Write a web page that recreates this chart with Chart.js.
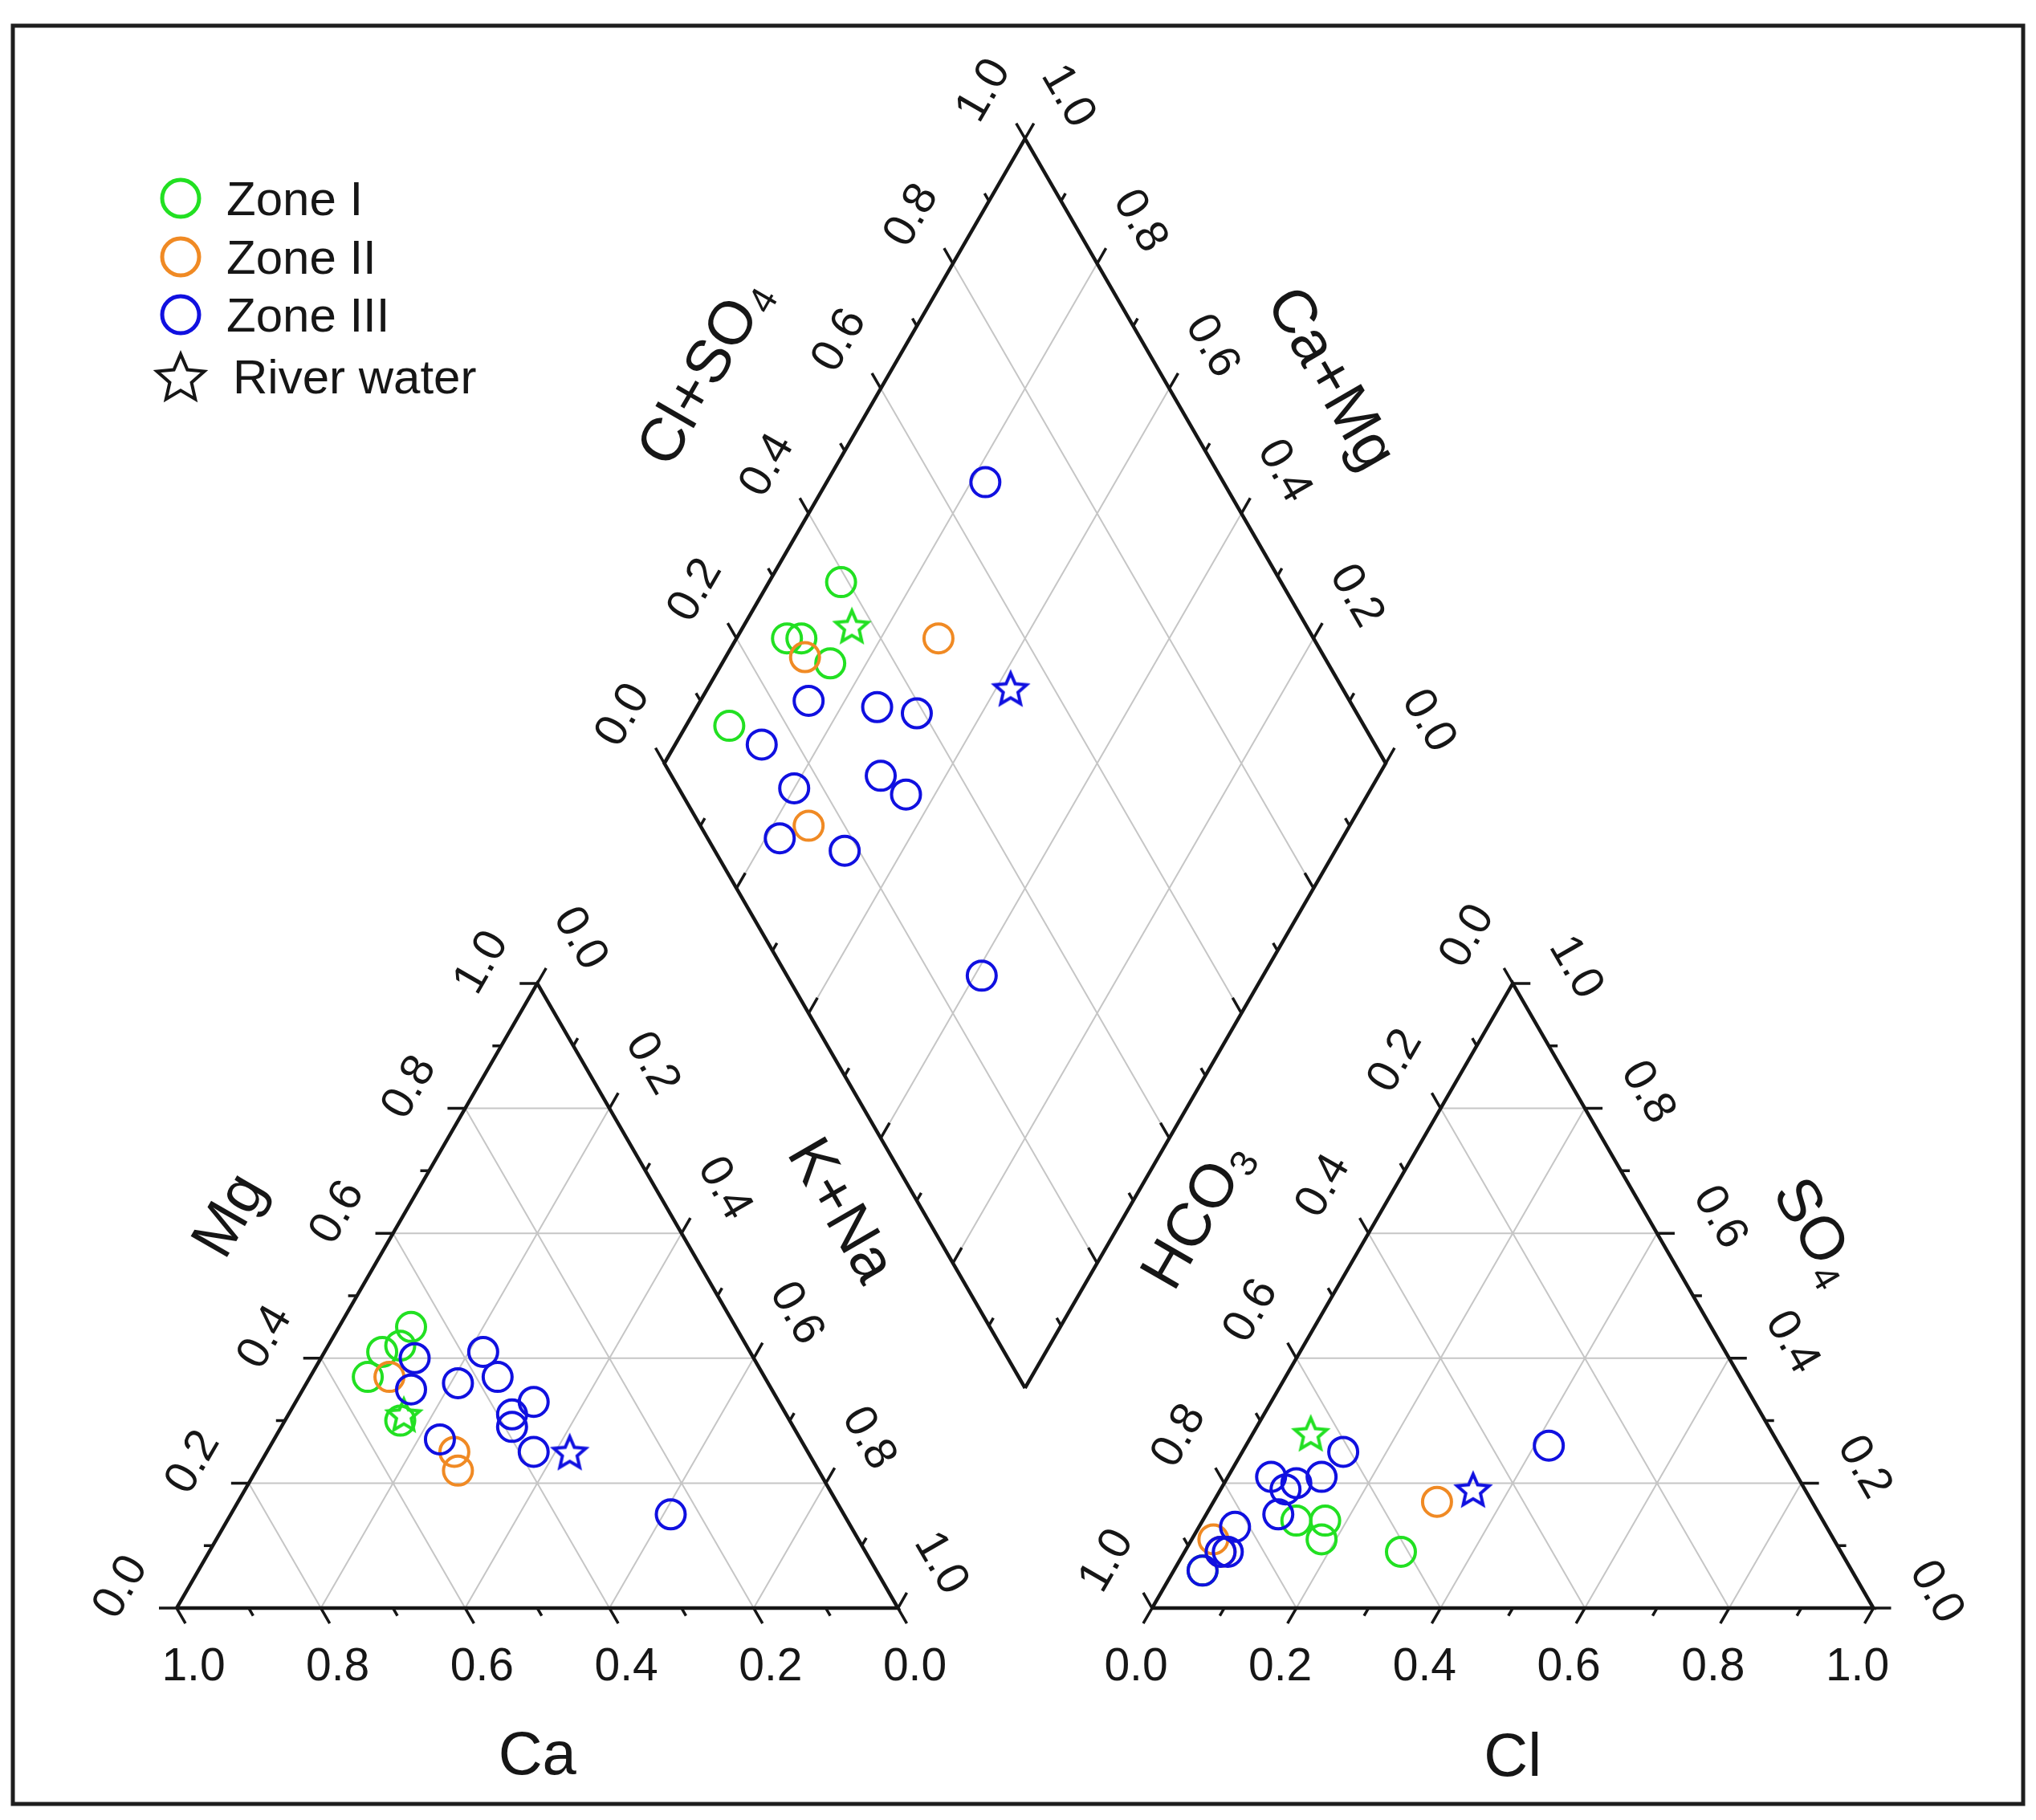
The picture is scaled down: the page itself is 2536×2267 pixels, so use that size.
<!DOCTYPE html>
<html>
<head>
<meta charset="utf-8">
<title>Piper diagram</title>
<script src="https://cdn.jsdelivr.net/npm/chart.js@4.4.1/dist/chart.umd.min.js"></script>
<style>
  html, body { margin: 0; padding: 0; background: #fff; }
  canvas { display: block; }
</style>
</head>
<body>
<canvas id="canvas" width="2536" height="2267"></canvas>
<script>
// values, as fractions
// cations: [Ca, Mg, K+Na]
const zone1Cations = [[0.45, 0.45, 0.10], [0.51, 0.41, 0.08], [0.48, 0.42, 0.10], [0.55, 0.37, 0.08], [0.54, 0.30, 0.16]];
const zone2Cations = [[0.52, 0.37, 0.11], [0.49, 0.25, 0.26], [0.50, 0.22, 0.28]];
const zone3Cations = [[0.47, 0.40, 0.13], [0.50, 0.35, 0.15], [0.43, 0.36, 0.21], [0.37, 0.41, 0.22], [0.37, 0.37, 0.26],
  [0.34, 0.33, 0.33], [0.38, 0.31, 0.31], [0.39, 0.29, 0.32], [0.50, 0.27, 0.23], [0.38, 0.25, 0.37], [0.24, 0.15, 0.61]];
// anions: [HCO3, Cl, SO4]
const zone1Anions = [[0.73, 0.13, 0.14], [0.69, 0.17, 0.14], [0.71, 0.18, 0.11], [0.61, 0.30, 0.09], [0.90, 0.04, 0.06]];
const zone2Anions = [[0.52, 0.31, 0.17], [0.86, 0.03, 0.11], [0.86, 0.05, 0.09]];
const zone3Anions = [[0.73, 0.06, 0.21], [0.72, 0.09, 0.19], [0.70, 0.10, 0.20], [0.66, 0.13, 0.21], [0.61, 0.14, 0.25],
  [0.75, 0.10, 0.15], [0.82, 0.05, 0.13], [0.85, 0.06, 0.09], [0.86, 0.05, 0.09], [0.90, 0.04, 0.06], [0.32, 0.42, 0.26]];
// diamond: [Cl+SO4, Ca+Mg]
const zone1Diamond = [[0.39, 0.90], [0.27, 0.93], [0.29, 0.91], [0.31, 0.85], [0.12, 0.94]];
const zone2Diamond = [[0.28, 0.89], [0.48, 0.72], [0.15, 0.75]];
const zone3Diamond = [[0.67, 0.78], [0.25, 0.85], [0.34, 0.75], [0.39, 0.69], [0.15, 0.88], [0.16, 0.80],
  [0.29, 0.69], [0.31, 0.64], [0.10, 0.78], [0.18, 0.68], [0.27, 0.39]];
// river water (first: zone I colour, second: zone III colour)
const riverCations = [[0.53, 0.31, 0.16], [0.33, 0.25, 0.42]];
const riverAnions = [[0.64, 0.08, 0.28], [0.46, 0.35, 0.19]];
const riverDiamond = [[0.37, 0.85], [0.54, 0.58]];

const zoneNames = ['Zone I', 'Zone II', 'Zone III'];
const zoneColors = ['#22e022', '#f08a24', '#1010e0'];

const tickValues = [0, 0.1, 0.2, 0.3, 0.4, 0.5, 0.6, 0.7, 0.8, 0.9, 1];
const labelValues = [0, 0.2, 0.4, 0.6, 0.8, 1];
const gridValues = [0.2, 0.4, 0.6, 0.8];

// layout (px)
const SIDE = 898.5;
const ORIGIN = [220, 2003];
const GAP = 316.5 / SIDE;
const H = Math.sqrt(3) / 2;
const RX = 1 + GAP;
const DB = {x: 1 + GAP / 2, y: GAP * H};

function cat(ca, mg, na) { return {x: na + mg / 2, y: mg * H}; }
function ani(hco3, cl, so4) { return {x: RX + cl + so4 / 2, y: so4 * H}; }
function dia(u, v) { return {x: DB.x + (u - v) / 2, y: DB.y + (u + v) * H}; }

function samples(c, a, d) {
  return [].concat(c.map(p => cat(p[0], p[1], p[2])), a.map(p => ani(p[0], p[1], p[2])), d.map(p => dia(p[0], p[1])));
}

function segs(list) {
  let out = [];
  list.forEach(s => { out = out.concat(s); out.push({x: null, y: null}); });
  return out;
}

// axes: point on the edge for value t, tick direction, label rotation + offset
const axes = [
  {at: t => cat(t, 0, 1 - t), dir: [0.5, -H], rot: 0, off: [21, 70], labels: true},
  {at: t => cat(1 - t, t, 0), dir: [-1, 0], rot: -60, off: [-73, -28], labels: true},
  {at: t => cat(0, 1 - t, t), dir: [0.5, H], rot: 60, off: [57, -58], labels: true},
  {at: t => ani(1 - t, t, 0), dir: [-0.5, -H], rot: 0, off: [-20, 70], labels: true},
  {at: t => ani(t, 0, 1 - t), dir: [-0.5, H], rot: -60, off: [-60, -61], labels: true},
  {at: t => ani(0, 1 - t, t), dir: [1, 0], rot: 60, off: [82, -22], labels: true},
  {at: t => dia(t, 1), dir: [-0.5, H], rot: -60, off: [-55, -62], labels: true},
  {at: t => dia(1, t), dir: [0.5, H], rot: 60, off: [57, -55], labels: true},
  {at: t => dia(0, t), dir: [0.5, H], labels: false},
  {at: t => dia(t, 0), dir: [-0.5, H], labels: false}
];

const titles = [
  {text: 'Ca', sub: '', at: () => cat(0.5, 0, 0.5), off: [0, 180], rot: 0},
  {text: 'Mg', sub: '', at: () => cat(0.5, 0.5, 0), off: [-162, -102], rot: -60},
  {text: 'K+Na', sub: '', at: () => cat(0, 0.5, 0.5), off: [157, -108], rot: 60},
  {text: 'Cl', sub: '', at: () => ani(0.5, 0.5, 0), off: [0, 182], rot: 0},
  {text: 'HCO', sub: '3', at: () => ani(0.5, 0, 0.5), off: [-172, -102], rot: -60},
  {text: 'SO', sub: '4', at: () => ani(0, 0.5, 0.5), off: [156, -82], rot: 60},
  {text: 'Cl+SO', sub: '4', at: () => dia(0.5, 1), off: [-178, -100], rot: -60},
  {text: 'Ca+Mg', sub: '', at: () => dia(1, 0.5), off: [160, -92], rot: 60}
];

// grid lines
const gridSegs = [];
gridValues.forEach(t => {
  [cat, ani].forEach(f => {
    gridSegs.push([f(t, 1 - t, 0), f(t, 0, 1 - t)]);
    gridSegs.push([f(1 - t, t, 0), f(0, t, 1 - t)]);
    gridSegs.push([f(1 - t, 0, t), f(0, 1 - t, t)]);
  });
  gridSegs.push([dia(t, 0), dia(t, 1)]);
  gridSegs.push([dia(0, t), dia(1, t)]);
});

const outlineSegs = [
  [cat(1, 0, 0), cat(0, 0, 1), cat(0, 1, 0), cat(1, 0, 0)],
  [ani(1, 0, 0), ani(0, 1, 0), ani(0, 0, 1), ani(1, 0, 0)],
  [dia(0, 0), dia(1, 0), dia(1, 1), dia(0, 1), dia(0, 0)]
];

const tickSegs = [];
axes.forEach(ax => {
  tickValues.forEach((t, i) => {
    const len = (i % 2 === 0 ? 22 : 11) / SIDE;
    const p = ax.at(t);
    tickSegs.push([p, {x: p.x + ax.dir[0] * len, y: p.y + ax.dir[1] * len}]);
  });
});

function makeStar(color, r, lw) {
  const size = Math.ceil(2 * (r + lw)) + 4;
  const c = document.createElement('canvas');
  c.width = c.height = size;
  const g = c.getContext('2d');
  g.translate(size / 2, size / 2 + r * 0.1);
  g.beginPath();
  for (let i = 0; i < 10; i++) {
    const rr = i % 2 ? r * 0.46 : r;
    const a = -Math.PI / 2 + i * Math.PI / 5;
    g.lineTo(rr * Math.cos(a), rr * Math.sin(a));
  }
  g.closePath();
  g.strokeStyle = color;
  g.lineWidth = lw;
  g.stroke();
  return c;
}

const lineSet = (data, color, width, order) => ({
  type: 'line', data: data, borderColor: color, borderWidth: width,
  pointRadius: 0, spanGaps: false, fill: false, order: order
});
const pointSet = (data, color, order) => ({
  type: 'scatter', data: data, pointStyle: 'circle', pointRadius: 18, pointBorderWidth: 4,
  pointBorderColor: color, pointBackgroundColor: 'rgba(0,0,0,0)', order: order
});
const starSet = (data, color) => ({
  type: 'scatter', data: data, pointStyle: makeStar(color, 21, 4), pointRadius: 20, order: 6
});

const datasets = [
  lineSet(segs(gridSegs), '#c6c6c6', 2, 10),
  lineSet(segs(outlineSegs), '#161616', 4.5, 9),
  lineSet(segs(tickSegs), '#161616', 3.5, 9),
  starSet(samples([riverCations[0]], [riverAnions[0]], [riverDiamond[0]]), zoneColors[0]),
  starSet(samples([riverCations[1]], [riverAnions[1]], [riverDiamond[1]]), zoneColors[2]),
  pointSet(samples(zone1Cations, zone1Anions, zone1Diamond), zoneColors[0], 5),
  pointSet(samples(zone2Cations, zone2Anions, zone2Diamond), zoneColors[1], 4),
  pointSet(samples(zone3Cations, zone3Anions, zone3Diamond), zoneColors[2], 3)
];

const FONT = '"Liberation Sans", Arial, sans-serif';

function drawText(ctx, x, y, rot, main, sub, size) {
  ctx.save();
  ctx.translate(x, y);
  ctx.rotate(rot * Math.PI / 180);
  ctx.font = size + 'px ' + FONT;
  const w1 = ctx.measureText(main).width;
  const subSize = Math.round(size * 0.62);
  let w2 = 0;
  if (sub) {
    ctx.font = subSize + 'px ' + FONT;
    w2 = ctx.measureText(sub).width + 2;
  }
  const x0 = -(w1 + w2) / 2;
  ctx.textAlign = 'left';
  ctx.textBaseline = 'alphabetic';
  ctx.fillStyle = '#161616';
  ctx.font = size + 'px ' + FONT;
  ctx.fillText(main, x0, size * 0.358);
  if (sub) {
    ctx.font = subSize + 'px ' + FONT;
    ctx.fillText(sub, x0 + w1 + 2, size * 0.358 + size * 0.14);
  }
  ctx.restore();
}

const piperText = {
  id: 'piperText',
  afterDraw(chart) {
    const ctx = chart.ctx;
    const xs = chart.scales.x, ys = chart.scales.y;
    const px = p => [xs.getPixelForValue(p.x), ys.getPixelForValue(p.y)];

    axes.forEach(ax => {
      if (!ax.labels) return;
      labelValues.forEach(t => {
        const q = px(ax.at(t));
        drawText(ctx, q[0] + ax.off[0], q[1] + ax.off[1], ax.rot, t.toFixed(1), '', 57);
      });
    });
    titles.forEach(tt => {
      const q = px(tt.at());
      drawText(ctx, q[0] + tt.off[0], q[1] + tt.off[1], tt.rot, tt.text, tt.sub, 76);
    });

    // legend
    const rows = [247, 320, 392];
    ctx.save();
    zoneNames.forEach((name, i) => {
      ctx.beginPath();
      ctx.arc(225, rows[i], 23, 0, Math.PI * 2);
      ctx.strokeStyle = zoneColors[i];
      ctx.lineWidth = 5;
      ctx.stroke();
      ctx.fillStyle = '#161616';
      ctx.font = '60px ' + FONT;
      ctx.textAlign = 'left';
      ctx.textBaseline = 'alphabetic';
      ctx.fillText(name, 282, rows[i] + 21);
    });
    const star = makeStar('#161616', 31, 4);
    ctx.drawImage(star, 225 - star.width / 2, 469 - star.height / 2);
    ctx.fillText('River water', 290, 469 + 21);

    // outer frame
    ctx.strokeStyle = '#1e1e1e';
    ctx.lineWidth = 5;
    ctx.strokeRect(16, 32, 2504, 2215);
    ctx.restore();
  }
};

new Chart(document.getElementById('canvas').getContext('2d'), {
  type: 'scatter',
  data: {datasets: datasets},
  options: {
    responsive: false,
    animation: false,
    events: [],
    layout: {padding: 0, autoPadding: false},
    scales: {
      x: {type: 'linear', display: false, bounds: 'data', min: -ORIGIN[0] / SIDE, max: (2536 - ORIGIN[0]) / SIDE},
      y: {type: 'linear', display: false, bounds: 'data', min: -(2267 - ORIGIN[1]) / SIDE, max: ORIGIN[1] / SIDE}
    },
    plugins: {legend: {display: false}, tooltip: {enabled: false}}
  },
  plugins: [piperText]
});
</script>
</body>
</html>
